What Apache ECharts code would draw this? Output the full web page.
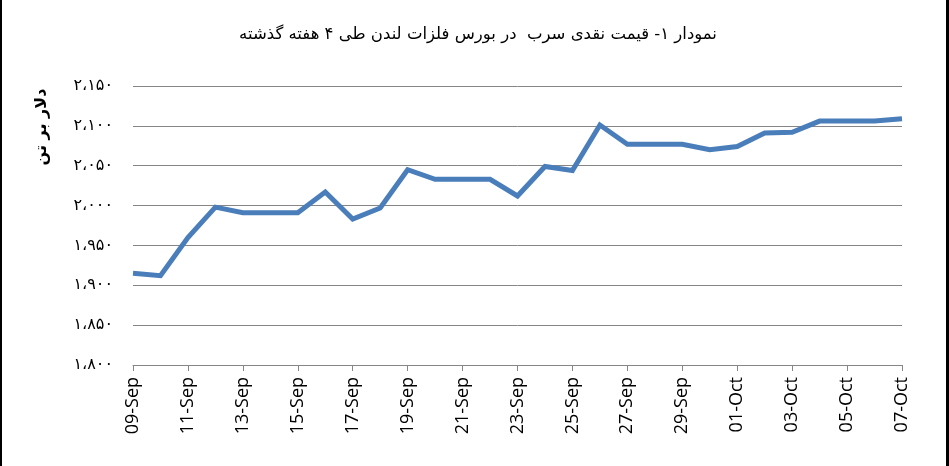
<!DOCTYPE html>
<html><head><meta charset="utf-8">
<script src="https://cdn.jsdelivr.net/npm/echarts@6/dist/echarts.min.js"></script>
<style>
html,body{margin:0;padding:0;background:#fff;}
#c{width:949px;height:466px;box-sizing:border-box;border-left:2px solid #000;border-right:3px solid #000;}
</style></head>
<body><div id="c"></div>
<script>
const titleText = 'نمودار ۱- قیمت نقدی سرب  در بورس فلزات لندن طی ۴ هفته گذشته';
const yAxisTitle = 'دلار بر تن';
const categories = ['09-Sep','10-Sep','11-Sep','12-Sep','13-Sep','14-Sep','15-Sep','16-Sep','17-Sep','18-Sep','19-Sep','20-Sep','21-Sep','22-Sep','23-Sep','24-Sep','25-Sep','26-Sep','27-Sep','28-Sep','29-Sep','30-Sep','01-Oct','02-Oct','03-Oct','04-Oct','05-Oct','06-Oct','07-Oct'];
const prices = [1915,1912,1960,1998,1991,1991,1991,2017,1983,1997,2045,2033,2033,2033,2012,2049,2044,2101,2077,2077,2077,2070,2074,2091,2092,2106,2106,2106,2109];
const yMin = 1800, yMax = 2150, yStep = 50;

const faDigits = '۰۱۲۳۴۵۶۷۸۹';
function toFa(v){
  const s = String(v);
  const withSep = s.length > 3 ? s.slice(0, s.length-3) + '،' + s.slice(s.length-3) : s;
  return withSep.replace(/[0-9]/g, d => faDigits[+d]);
}

const chart = echarts.init(document.getElementById('c'));
chart.setOption({
  animation:false,
  title:{text:titleText,left:471,top:21,textAlign:'center',
    textStyle:{fontFamily:'DejaVu Sans',fontSize:16.5,fontWeight:'normal',color:'#000'}},
  graphic:[{type:'text',x:40,y:127,rotation:Math.PI/2,
    style:{text:yAxisTitle,font:'bold 16px "DejaVu Sans"',fill:'#000',textAlign:'center',textVerticalAlign:'middle'}}],
  grid:{left:131,right:44,top:86,bottom:101,containLabel:false},
  xAxis:{type:'category',data:categories,boundaryGap:false,
    axisLine:{lineStyle:{color:'#868686',width:1}},
    axisTick:{show:true,interval:1,length:6,lineStyle:{color:'#868686'}},
    axisLabel:{interval:1,rotate:90,margin:12,fontFamily:'Open Sans',fontSize:18,color:'#000'}},
  yAxis:{type:'value',min:yMin,max:yMax,interval:yStep,
    axisLine:{show:false},axisTick:{show:false},
    splitLine:{lineStyle:{color:'#868686',width:1}},
    axisLabel:{margin:20,fontFamily:'DejaVu Sans',fontSize:16,color:'#000',formatter:v=>toFa(v)}},
  series:[{type:'line',data:prices,symbol:'none',
    lineStyle:{color:'#4a7ebb',width:5,join:'miter'}}]
});
</script></body></html>
